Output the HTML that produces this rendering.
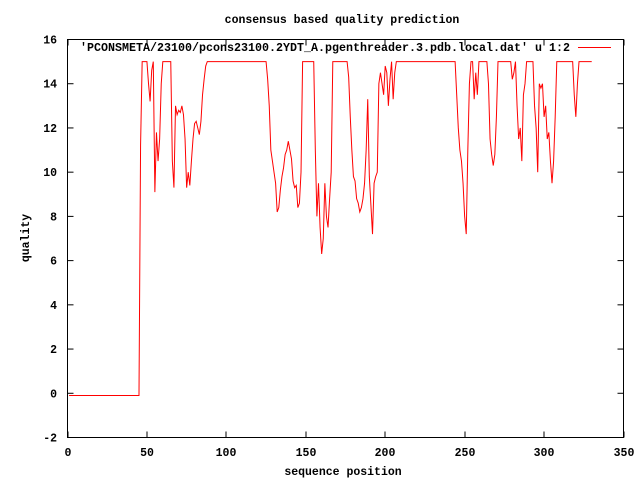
<!DOCTYPE html>
<html><head><meta charset="utf-8"><style>
body{margin:0;background:#fff}
svg{display:block}
text{font-family:"Liberation Mono","DejaVu Sans Mono",monospace;font-weight:bold;font-size:11.5px;fill:#000}
</style></head><body>
<svg id="chart" width="640" height="480" viewBox="0 0 640 480" xmlns="http://www.w3.org/2000/svg">
<rect width="640" height="480" fill="#fff"/>
<text x="342" y="23" text-anchor="middle">consensus based quality prediction</text>
<text x="343" y="475" text-anchor="middle">sequence position</text>
<text x="0" y="0" text-anchor="middle" transform="translate(29,238) rotate(-90)">quality</text>
<g id="axes"></g>
<rect x="67.5" y="39.5" width="556" height="398" fill="none" stroke="#000" stroke-width="1"/>
<polyline id="series" fill="none" stroke="#f00" stroke-width="1"/>
<text x="570" y="51" text-anchor="end" textLength="490" lengthAdjust="spacingAndGlyphs">'PCONSMETA/23100/pcons23100.2YDT_A.pgenthreader.3.pdb.local.dat' u 1:2</text>
<line x1="578" y1="47.5" x2="611" y2="47.5" stroke="#f00" stroke-width="1"/>
</svg>
<script>
const xTicks=[0,50,100,150,200,250,300,350];
const yTicks=[-2,0,2,4,6,8,10,12,14,16];
const startPos=1;
const quality=[
-0.1,-0.1,-0.1,-0.1,-0.1,-0.1,-0.1,-0.1,-0.1,-0.1,
-0.1,-0.1,-0.1,-0.1,-0.1,-0.1,-0.1,-0.1,-0.1,-0.1,
-0.1,-0.1,-0.1,-0.1,-0.1,-0.1,-0.1,-0.1,-0.1,-0.1,
-0.1,-0.1,-0.1,-0.1,-0.1,-0.1,-0.1,-0.1,-0.1,-0.1,
-0.1,-0.1,-0.1,-0.1,-0.1,
11.2,15,15,15,15,14,13.2,14.6,15,9.1,
11.8,10.5,11.5,14,15,15,15,15,15,15,
10.5,9.3,13,12.6,12.8,12.7,13,12.6,11.5,9.3,
10,9.4,10.5,11.5,12.2,12.3,12,11.7,12.3,13.5,
14.2,14.8,15,
15,15,15,15,15,15,15,15,15,15,15,15,15,15,15,15,15,15,15,15,15,15,15,15,15,15,15,15,15,15,15,15,15,15,15,15,15,
14.2,13,11,10.5,10,9.5,8.2,8.4,9.2,9.8,
10.2,10.8,11,11.4,11,10.6,9.6,9.3,9.4,8.4,
8.6,10,15,
15,15,15,15,15,15,15,
11,8,9.5,7.5,6.3,7,9.5,8,7.5,8.8,10,15,
15,15,15,15,15,15,15,15,15,
14.3,12.5,11,9.8,9.6,8.8,8.6,8.2,8.4,8.8,
9.5,11,13.3,9.8,8.5,7.2,9.5,9.8,10,14,
14.5,14,13.5,14.8,14.5,13,14.2,15,13.3,14.5,15,
15,15,15,15,15,15,15,15,15,15,15,15,15,15,15,15,15,15,15,15,15,15,15,15,15,15,15,15,15,15,15,15,15,15,15,15,15,
13.5,12,11,10.5,9.5,8,7.2,11,14,15,
15,13.3,14.5,13.5,15,
15,15,15,15,15,
14,11.5,10.8,10.3,10.8,12.5,15,
15,15,15,15,15,15,15,15,
14.2,14.5,15,13,11.5,12,10.5,13.5,14,15,
15,15,15,15,
13,12,10,14,13.8,14,12.5,13,11.5,11.8,
10.5,9.5,10.5,12.5,15,
15,15,15,15,15,15,15,15,15,15,
13.5,12.5,14,15,
15,15,15,15,15,15,15,15
];
const X0=67.5,X1=623.5,Y0=437.5,Y1=39.5;
function sx(v){return X0+(v-0)/(350-0)*(X1-X0);}
function sy(v){return Y0-(v-(-2))/(16-(-2))*(Y0-Y1);}
const NS="http://www.w3.org/2000/svg";
const axes=document.getElementById('axes');
function mk(tag,attrs){const e=document.createElementNS(NS,tag);for(const k in attrs)e.setAttribute(k,attrs[k]);axes.appendChild(e);return e;}
xTicks.forEach(t=>{
  const x=Math.round(sx(t))+0.5-0.5;
  const a=mk('line',{x1:x,y1:Y0,x2:x,y2:Y0-6,stroke:'#000'});
  
  
  const b=mk('line',{x1:x,y1:Y1,x2:x,y2:Y1+6,stroke:'#000'});
  
  
  const l=mk('text',{x:x,y:456,'text-anchor':'middle'});
  l.textContent=t;
  
  
});
yTicks.forEach(t=>{
  const y=sy(t);
  const a=mk('line',{x1:X0,y1:y,x2:X0+6,y2:y,stroke:'#000'});
  
  
  const b=mk('line',{x1:X1,y1:y,x2:X1-6,y2:y,stroke:'#000'});
  
  
  const l=mk('text',{x:57,y:y+4,'text-anchor':'end'});
  l.textContent=t;
  
  
});
const pts=quality.map((v,i)=>sx(startPos+i).toFixed(2)+','+sy(v).toFixed(2));
document.getElementById('series').setAttribute('points',pts.join(' '));
</script>
</body></html>
